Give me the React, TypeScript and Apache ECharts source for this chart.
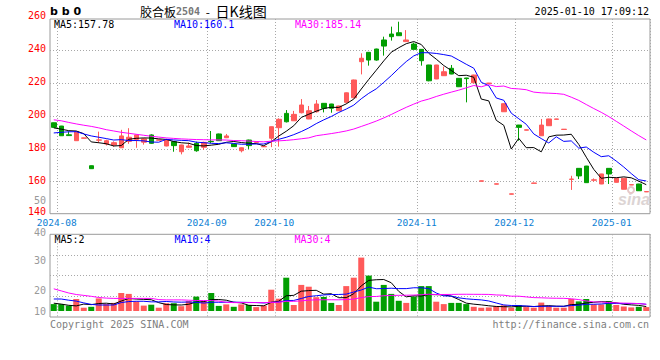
import React, { useEffect, useRef } from 'react';
import * as echarts from 'echarts';

// ---- Daily K data (plywood 2504) ----
const opens = [195.8,193.8,188.5,184.9,186.4,169.7,185.2,182.9,182.3,180.6, 184.5,185.7,184.0,188.4,185.2,181.7,184.3,178.2,180.9,183.3, 180.9,184.5,189.0,186.7,182.9,178.8,185.3,183.9,181.2,186.4, 192.8,201.5,197.0,201.9,198.1,202.5,207.6,207.2,203.1,208.2, 211.0,232.9,238.6,240.6,246.1,249.7,250.5,245.1,243.6,240.4, 230.9,222.4,224.4,228.9,222.8,223.0,220.1,160.3,219.7,158.5, 202.5,152.4,194.4,191.3,159.0,187.9,194.0,197.9,191.7,161.4, 168.1,169.5,160.9,158.6,168.1,159.6,155.4,158.0,158.6,153.8];
const closes = [193.0,187.9,188.0,190.4,186.6,167.9,185.4,184.9,183.7,187.8, 187.0,188.4,186.0,183.3,185.4,185.3,181.9,182.3,181.7,178.8, 183.9,184.3,184.9,187.8,181.3,180.6,181.9,184.1,181.4,193.4, 197.9,196.4,200.9,206.6,203.1,207.2,204.6,204.6,206.0,214.0, 221.8,235.0,233.9,233.9,242.4,248.1,248.7,246.1,240.4,233.5, 221.3,230.9,226.8,225.4,217.7,222.6,224.8,160.5,219.9,158.7, 207.4,152.6,193.0,191.5,159.2,194.4,198.1,198.1,191.9,161.6, 163.5,159.4,161.1,164.7,164.7,162.1,162.1,158.2,154.5,154.0];
const lows = [192.9,187.8,187.9,184.8,186.3,167.8,183.5,182.0,181.2,180.5, 183.0,180.6,182.5,183.0,185.1,181.5,178.2,176.6,180.6,178.2, 179.3,183.5,184.8,186.5,181.2,177.8,179.9,183.8,181.1,181.0, 181.3,196.0,196.9,201.5,198.0,202.0,202.1,201.9,203.0,207.5, 210.9,225.2,230.5,233.5,236.6,245.7,248.5,245.0,240.3,230.5, 221.0,222.3,224.3,225.3,217.5,208.2,220.0,160.2,219.6,158.4, 202.4,152.3,184.9,191.2,158.9,187.8,193.9,197.8,191.6,155.0, 161.6,159.3,160.0,158.5,158.6,159.5,155.3,157.9,154.4,153.7];
const highs = [195.9,193.9,190.6,190.5,186.7,169.8,190.4,185.5,184.5,191.5, 192.5,188.5,186.5,188.8,185.5,186.0,184.5,182.5,183.7,184.3, 184.3,190.8,189.2,189.0,183.0,180.8,185.5,184.3,181.5,193.5, 198.5,203.5,203.0,210.2,206.0,209.6,207.8,207.3,206.2,214.2, 222.0,238.0,238.8,240.8,248.1,254.2,257.2,252.1,244.5,240.5, 231.0,231.0,229.9,230.9,223.0,223.1,225.0,160.6,220.0,158.8, 207.5,152.7,194.5,191.6,159.3,198.1,198.2,198.2,192.0,163.6, 168.2,169.6,162.0,164.8,168.2,162.2,162.2,158.3,158.7,154.1];
const volumes = [15.3,15.3,14.8,17.0,14.1,14.4,17.2,15.3,15.7,19.0, 18.7,16.2,14.8,15.1,14.1,15.6,15.6,14.6,16.3,17.8, 16.3,19.0,14.7,15.2,14.4,15.2,15.0,14.3,14.8,20.1, 17.1,24.1,15.0,21.7,21.1,17.6,17.7,15.7,15.0,21.3, 24.1,30.8,24.8,16.1,21.7,18.7,16.4,15.7,17.8,21.3, 21.3,16.1,15.3,15.7,15.7,15.3,14.4,14.1,14.2,14.6, 14.9,14.1,15.0,14.3,14.1,15.8,14.7,14.1,14.1,17.0, 16.2,17.0,15.2,15.2,16.3,15.0,14.5,14.2,14.4,14.3];

// Moving-average values before enough bars exist
const ma5Head = [192.7,191.9,191.0,190.8];
const ma10Head = [189.6,190.0,190.3,190.4,189.0,187.8,187.0,186.2,185.3];
const ma30Head = [197.6,197.0,196.0,195.1,194.3,193.6,192.7,191.6,190.8,190.0,189.4,188.8,188.2,187.6,187.1,186.6,186.3,186.0,185.8,185.6,185.5,185.4,185.4,185.3,185.0,184.9,184.7,184.4,184.2];
const volMa5Head = [15.6,15.3,14.9,14.7];
const volMa10Head = [17.0,17.0,16.6,16.3,15.7,15.2,15.0,15.0,15.0];
const volMa30Head = [20.4,19.7,19.0,18.5,18.2,17.9,17.5,17.3,17.2,17.2,17.2,17.2,17.2,17.2,16.8,16.7,16.7,16.7,16.6,16.5,16.5,16.5,16.3,15.9,15.8,15.8,15.8,15.8,15.8];

// Axis ticks
const monthTickIndex = [1, 21, 30, 49, 62, 75];
const monthTickLabels = ['2024-08', '2024-09', '2024-10', '2024-11', '2024-12', '2025-01'];
const priceTicks = { min: 140, max: 260, step: 20 };
const volTickValues = [13, 20, 30, 40, 50];
const volTickTexts = ['10', '20', '30', '40', '50'];

// Legend / header texts
const maLegend = ['MA5:157.78', 'MA10:160.1', 'MA30:185.14'];
const volLegend = ['MA5:2', 'MA10:4', 'MA30:4'];

const UP = '#ff5a5a';
const DOWN = '#029e02';
const MA_COLORS = ['#000000', '#0000ff', '#ff00ff'];
const MONO = '"DejaVu Sans Mono", "Liberation Mono", monospace';
const GRID_LINE = { color: '#a8a8a8', type: [1, 2] as any, width: 1 };

function movingAverage(values: number[], n: number, head: number[]): number[] {
  return values.map((_, i) => {
    if (i < n - 1) return head[i];
    let s = 0;
    for (let k = i - n + 1; k <= i; k++) s += values[k];
    return Math.round((s / n) * 100) / 100;
  });
}

export default function App() {
  const ref = useRef<HTMLDivElement>(null);

  useEffect(() => {
    if (!ref.current) return;
    const chart = echarts.init(ref.current, null, { renderer: 'svg' });
    const cats = closes.map((_, i) => 'd' + i);
    const isMonth = (i: number) => monthTickIndex.indexOf(i) >= 0;
    const monthLabel = (v: string) => {
      const k = monthTickIndex.indexOf(Number(String(v).slice(1)));
      return k >= 0 ? monthTickLabels[k] : '';
    };
    const kData = closes.map((c, i) => [opens[i], c, lows[i], highs[i]]);
    const volData = volumes.map((v, i) => ({
      value: v,
      itemStyle: { color: closes[i] >= opens[i] ? UP : DOWN },
    }));
    const priceMA = [
      movingAverage(closes, 5, ma5Head),
      movingAverage(closes, 10, ma10Head),
      movingAverage(closes, 30, ma30Head),
    ];
    const volMA = [
      movingAverage(volumes, 5, volMa5Head),
      movingAverage(volumes, 10, volMa10Head),
      movingAverage(volumes, 30, volMa30Head),
    ];

    const hiddenCat = (gridIndex: number) => ({
      type: 'category', gridIndex, data: cats, boundaryGap: true,
      axisLine: { show: false }, axisTick: { show: false },
      axisLabel: { show: false }, splitLine: { show: false },
    });
    const monthCat = (gridIndex: number, withLabels: boolean) => ({
      type: 'category', gridIndex, data: cats, boundaryGap: true,
      axisLine: { show: false }, axisTick: { show: false },
      axisLabel: withLabels ? {
        show: true, interval: (i: number) => isMonth(i), formatter: monthLabel,
        color: '#0b80d4', fontFamily: MONO, fontSize: 9.5, margin: 4, lineHeight: 9,
        padding: [0, 9, 0, 0],
      } : { show: false },
      splitLine: { show: true, interval: (i: number) => isMonth(i), lineStyle: GRID_LINE },
    });

    const lineSeries = (name: string, data: number[], color: string, axisIndex: number) => ({
      name, type: 'line', data, xAxisIndex: axisIndex, yAxisIndex: axisIndex,
      showSymbol: false, symbol: 'none', smooth: false, z: 5,
      lineStyle: { color, width: 1 }, silent: true,
    });

    const txt = (x: number, y: number, text: string, fill: string, font: string, align = 'left') => ({
      type: 'text', x, y, silent: true, z: 10,
      style: { text, fill, font, align, verticalAlign: 'middle' },
    });

    chart.setOption({
      animation: false,
      backgroundColor: '#ffffff',
      grid: [
        { left: 50, width: 600, top: 17.1, height: 197.5, show: false },
        { left: 50, width: 600, top: 19, height: 194.7, show: true, borderColor: '#9a9a9a', borderWidth: 1, backgroundColor: 'transparent' },
        { left: 50, width: 600, top: 200, height: 111, show: false },
        { left: 50, width: 600, top: 234.3, height: 82.7, show: true, borderColor: '#9a9a9a', borderWidth: 1, backgroundColor: 'transparent' },
      ],
      xAxis: [hiddenCat(0), monthCat(1, true), hiddenCat(2), monthCat(3, false)],
      yAxis: [
        {
          type: 'value', gridIndex: 0, min: priceTicks.min, max: priceTicks.max, interval: priceTicks.step,
          axisLine: { show: false }, axisTick: { show: false },
          axisLabel: {
            color: '#ff0000', fontFamily: MONO, fontSize: 10, margin: 4, lineHeight: 9, padding: [0, 0, 3, 0],
            formatter: (v: number) => (v === priceTicks.min ? '{lo|' + v + '}' : String(v)),
            rich: { lo: { color: '#ff0000', fontFamily: MONO, fontSize: 10, lineHeight: 9, padding: [0, 0, 4, 0] } },
          },
          splitLine: { show: true, showMinLine: false, showMaxLine: false, lineStyle: GRID_LINE },
        },
        { type: 'value', gridIndex: 1, min: 0, max: 1, show: false, splitLine: { show: false } },
        {
          type: 'value', gridIndex: 2, min: 13, max: 50,
          axisLine: { show: false }, axisTick: { show: false },
          axisLabel: {
            customValues: volTickValues, color: '#999999', fontFamily: MONO, fontSize: 10, margin: 4, lineHeight: 9,
            formatter: (v: number) => {
              const t = volTickTexts[volTickValues.indexOf(v)] ?? '';
              return v === 40 ? '{hi|' + t + '}' : t;
            },
            rich: { hi: { color: '#999999', fontFamily: MONO, fontSize: 10, lineHeight: 9, padding: [5, 0, 0, 0] } },
          },
          splitLine: { show: false },
        },
        {
          type: 'value', gridIndex: 3, min: 0, max: 4, interval: 1,
          axisLine: { show: false }, axisTick: { show: false }, axisLabel: { show: false },
          splitLine: { show: true, showMinLine: false, showMaxLine: false, lineStyle: GRID_LINE },
        },
      ],
      series: [
        {
          name: 'K', type: 'candlestick', data: kData, xAxisIndex: 0, yAxisIndex: 0,
          barWidth: 5, z: 3, silent: true,
          itemStyle: { color: UP, color0: DOWN, borderColor: UP, borderColor0: DOWN, borderWidth: 1 },
        },
        lineSeries('MA5', priceMA[0], MA_COLORS[0], 0),
        lineSeries('MA10', priceMA[1], MA_COLORS[1], 0),
        lineSeries('MA30', priceMA[2], MA_COLORS[2], 0),
        {
          name: 'VOL', type: 'bar', data: volData, xAxisIndex: 2, yAxisIndex: 2,
          barWidth: 6, z: 3, silent: true, clip: true,
        },
        lineSeries('VMA5', volMA[0], MA_COLORS[0], 2),
        lineSeries('VMA10', volMA[1], MA_COLORS[1], 2),
        lineSeries('VMA30', volMA[2], MA_COLORS[2], 2),
      ],
      graphic: [
        txt(50, 11, 'b b 0', '#000', 'bold 11px "DejaVu Sans", sans-serif'),
        {
          type: 'text', x: 140, y: 11, silent: true, z: 10,
          style: {
            text: '{t|胶合板}{n|2504}{s| - }{k|日K线图}',
            verticalAlign: 'middle',
            rich: {
              t: { font: '12px "Noto Sans CJK SC", sans-serif', fill: '#000' },
              n: { font: 'bold 10px ' + MONO, fill: '#777' },
              s: { font: '12px "Noto Sans CJK SC", sans-serif', fill: '#000', padding: [0, 3, 0, 3] },
              k: { font: '14px "Noto Sans CJK SC", sans-serif', fill: '#000' },
            },
          },
        },
        txt(649, 11, '2025-01-10 17:09:12', '#000', '10px ' + MONO, 'right'),
        txt(54, 24, maLegend[0], MA_COLORS[0], '10px ' + MONO),
        txt(174, 24, maLegend[1], MA_COLORS[1], '10px ' + MONO),
        txt(295, 24, maLegend[2], MA_COLORS[2], '10px ' + MONO),
        txt(54.5, 239, volLegend[0], MA_COLORS[0], '10px ' + MONO),
        txt(174.5, 239, volLegend[1], MA_COLORS[1], '10px ' + MONO),
        txt(294.5, 239, volLegend[2], MA_COLORS[2], '10px ' + MONO),
        txt(50, 324, 'Copyright 2025 SINA.COM', '#808080', '10px ' + MONO),
        txt(649, 324, 'http://finance.sina.com.cn', '#808080', '10px ' + MONO, 'right'),
        txt(650, 199, 'sina', '#dcd4d4', 'italic bold 16px "Liberation Sans", sans-serif', 'right'),
        {
          type: 'ring', silent: true, z: 10,
          shape: { cx: 631, cy: 190, r: 4, r0: 2 },
          style: { fill: '#e6c8c8' },
        },
      ],
    });
    return () => chart.dispose();
  }, []);

  return (
    <div
      ref={ref}
      style={{ position: 'absolute', left: 0, top: 0, width: 660, height: 360, background: '#fff' }}
    />
  );
}
